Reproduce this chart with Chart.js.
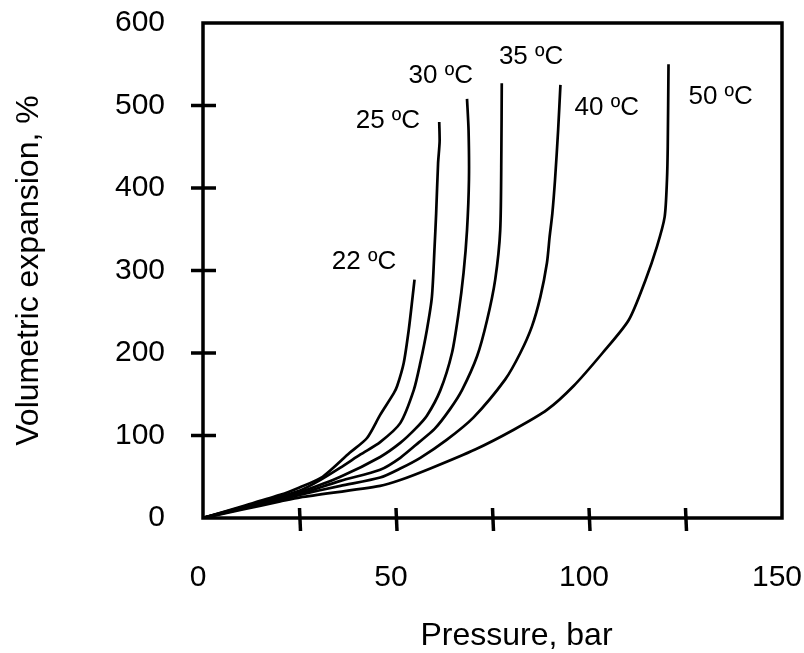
<!DOCTYPE html>
<html>
<head>
<meta charset="utf-8">
<script src="https://cdn.jsdelivr.net/npm/chart.js@4.4.1/dist/chart.umd.min.js"></script>
<style>
  html, body { margin: 0; padding: 0; background: #fff; }
</style>
</head>
<body>
<canvas id="myChart" width="804" height="653"></canvas>
<script>
// pressure (bar) and volumetric expansion (%) for each temperature
const p22 = [0, 10, 20, 25, 31, 38, 42.5, 45.9, 49.4, 50.3, 52, 53.3, 54.3, 54.8];
const v22 = [0, 14, 28, 37, 50, 79, 97, 125, 151, 160, 188, 228, 268, 289];

const p25 = [0, 10, 20, 25, 30, 35.6, 40.8, 45.9, 51.1, 54.6, 56.3, 58, 59.3, 60, 60.4, 60.9, 61.3, 61.2];
const v25 = [0, 13, 26, 33, 45, 61, 77, 92, 115, 155, 188, 228, 268, 329, 369, 430, 456, 480];

const p30 = [0, 10, 20, 25, 35.6, 45.9, 51.1, 55, 58, 61.5, 64.5, 66.2, 67.5, 68.4, 68.9, 68.8, 68.4];
const v30 = [0, 12, 24, 31, 50, 74, 91, 108, 124, 155, 200, 248, 297, 349, 410, 470, 508];

const p35 = [0, 10, 20, 25, 35.6, 45.9, 51.1, 56, 60, 64, 67.1, 71, 73.6, 75.7, 77, 77.3, 77.4];
const v35 = [0, 12, 23, 29, 45, 58.5, 73, 92, 108, 132, 155, 196, 240, 289, 349, 446, 527];

const p40 = [0, 10, 20, 25, 35.6, 45.9, 51.1, 56.3, 63.2, 70.1, 78.3, 82.2, 85.2, 87.4, 89.1, 89.8, 90.5, 91.2, 92, 92.6];
const v40 = [0, 11, 22, 28, 39, 49, 60, 73, 95, 122, 168, 200, 232, 268, 309, 341, 369, 410, 470, 525];

const p50 = [0, 10, 20, 25.2, 45.9, 51.1, 58.9, 70.5, 80.5, 89.1, 96, 103.5, 110.3, 114.6, 117.6, 119.6, 120.2, 120.4, 120.6];
const v50 = [0, 10, 20, 25, 39, 46, 60, 83, 107, 131, 160, 200, 240, 288, 329, 365, 410, 450, 550];

const temps = ["22 ºC", "25 ºC", "30 ºC", "35 ºC", "40 ºC", "50 ºC"];
const seriesP = [p22, p25, p30, p35, p40, p50];
const seriesV = [v22, v25, v30, v35, v40, v50];

// where each temperature label sits, in (bar, %)
const labelP = [41.7, 47.9, 61.6, 85, 104.6, 134.1];
const labelV = [310, 481, 536, 559, 497, 511];

// tick marks on the frame
const xMarks = [25, 50, 75, 100, 125];
const yMarks = [100, 200, 300, 400, 500];

const FONT = "'Liberation Sans', Arial, sans-serif";

const datasets = temps.map((t, i) => ({
  label: t,
  data: seriesP[i].map((p, j) => ({ x: p, y: seriesV[i][j] })),
  borderColor: "#000",
  borderWidth: 2.7,
  pointRadius: 0,
  tension: 0.25,
  fill: false,
}));

const framePlugin = {
  id: "frame",
  afterDatasetsDraw(chart) {
    const { ctx, chartArea: a, scales } = chart;
    ctx.save();
    ctx.strokeStyle = "#000";
    ctx.lineWidth = 3.5;
    ctx.lineCap = "square";
    ctx.strokeRect(a.left, a.top, a.right - a.left, a.bottom - a.top);

    ctx.lineCap = "butt";
    xMarks.forEach((v) => {
      const px = scales.x.getPixelForValue(v);
      ctx.beginPath();
      ctx.moveTo(px, a.bottom - 10);
      ctx.lineTo(px + 1, a.bottom + 13);
      ctx.stroke();
    });
    yMarks.forEach((v) => {
      const py = scales.y.getPixelForValue(v);
      ctx.beginPath();
      ctx.moveTo(a.left - 12, py);
      ctx.lineTo(a.left + 13, py);
      ctx.stroke();
    });

    ctx.fillStyle = "#000";
    ctx.textAlign = "center";
    ctx.textBaseline = "middle";
    ctx.font = "26px " + FONT;
    temps.forEach((t, i) => {
      ctx.fillText(t, scales.x.getPixelForValue(labelP[i]), scales.y.getPixelForValue(labelV[i]));
    });

    // x axis title sits a little right of centre
    ctx.font = "32px " + FONT;
    ctx.fillText("Pressure, bar", (a.left + a.right) / 2 + 24, 636);
    ctx.restore();
  },
};

new Chart(document.getElementById("myChart"), {
  type: "line",
  data: { datasets },
  options: {
    responsive: false,
    animation: false,
    layout: { padding: { top: 23, right: 22, left: 0, bottom: 0 } },
    plugins: { legend: { display: false }, tooltip: { enabled: false } },
    scales: {
      x: {
        type: "linear",
        min: 0,
        max: 150,
        grid: { display: false, drawTicks: false },
        border: { display: false },
        ticks: {
          stepSize: 50,
          autoSkip: false,
          maxRotation: 0,
          padding: 42,
          labelOffset: -5,
          color: "#000",
          font: { family: FONT, size: 30 },
        },
        afterFit(s) {
          s.height = 135;
          s.paddingLeft = 0;
          s.paddingRight = 0;
        },
      },
      y: {
        min: 0,
        max: 600,
        grid: { display: false, drawTicks: false },
        border: { display: false },
        ticks: {
          stepSize: 100,
          autoSkip: false,
          padding: 38,
          color: "#000",
          font: { family: FONT, size: 30 },
        },
        title: {
          display: true,
          text: "Volumetric expansion, %",
          color: "#000",
          font: { family: FONT, size: 32, lineHeight: 1 },
          padding: { top: 13, bottom: 0 },
        },
        afterFit(s) {
          s.width = 203;
          s.paddingTop = 0;
          s.paddingBottom = 0;
        },
      },
    },
  },
  plugins: [framePlugin],
});
</script>
</body>
</html>
